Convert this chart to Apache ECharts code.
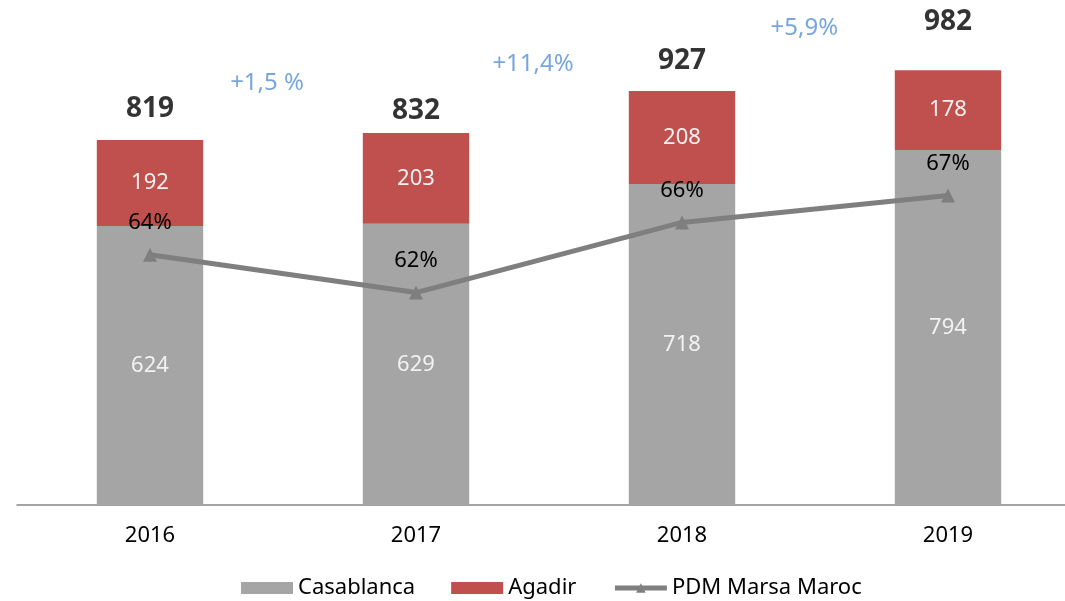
<!DOCTYPE html>
<html>
<head>
<meta charset="utf-8">
<script src="https://cdn.jsdelivr.net/npm/echarts@6/dist/echarts.min.js"></script>
<style>
html,body{margin:0;padding:0;background:#fff;overflow:hidden;}
#chart{width:1081px;height:601px;}
</style>
</head>
<body>
<div id="chart"></div>
<script>
const years = ['2016', '2017', '2018', '2019'];
const casablanca = [624, 629, 718, 794];
const agadir = [192, 203, 208, 178];
const totals = [819, 832, 927, 982];
const pdm = [63.9, 61.8, 65.7, 67.2];
const growthLabels = ['+1,5 %', '+11,4%', '+5,9%'];
const growthX = [0.44, 1.44, 2.46];
const growthY = [944, 986, 1067];

// label placement (styling only, not data)
const totalLabelGap = [16, 8, 15, 30];

const FONT = '"Noto Sans", sans-serif';
const chart = echarts.init(document.getElementById('chart'));

chart.setOption({
  animation: false,
  backgroundColor: '#ffffff',
  textStyle: { fontFamily: FONT },
  grid: { left: 17, right: 0, top: 10, bottom: 96, containLabel: false },
  legend: {
    top: 572,
    left: 236,
    itemWidth: 52,
    itemHeight: 12,
    itemGap: 36,
    data: [
      { name: 'Casablanca', icon: 'rect' },
      { name: 'Agadir', icon: 'rect' },
      { name: 'PDM Marsa Maroc', lineStyle: { width: 5, color: '#7F7F7F' } }
    ],
    textStyle: { fontFamily: FONT, fontSize: 22, color: '#000' }
  },
  xAxis: [
    {
      type: 'category',
      data: years,
      axisLine: { lineStyle: { color: '#868686', width: 1.5 } },
      axisTick: { show: false },
      axisLabel: { color: '#000', fontSize: 22, fontFamily: FONT, margin: 20 }
    },
    { type: 'value', min: -0.5, max: 3.5, show: false }
  ],
  yAxis: [
    { type: 'value', min: 0, max: 1107, show: false },
    { type: 'value', min: 50, max: 77.5, show: false }
  ],
  series: [
    {
      name: 'Casablanca', type: 'bar', stack: 'v', barWidth: '40%',
      data: casablanca,
      itemStyle: { color: '#A5A5A5' },
      label: { show: true, position: 'inside', color: '#F2F2F2', fontSize: 22, fontFamily: FONT }
    },
    {
      name: 'Agadir', type: 'bar', stack: 'v', barWidth: '40%',
      data: agadir,
      itemStyle: { color: '#C0504D' },
      label: { show: true, position: 'inside', color: '#F2F2F2', fontSize: 22, fontFamily: FONT }
    },
    {
      name: 'Totals', type: 'scatter', symbolSize: 0, silent: true,
      data: totals.map((v, i) => ({ value: v, label: { distance: totalLabelGap[i] } })),
      label: { show: true, position: 'top', color: '#000000', fontSize: 28, fontWeight: 'bold', fontFamily: FONT }
    },
    {
      name: 'PDM Marsa Maroc', type: 'line', yAxisIndex: 1, data: pdm,
      symbol: 'triangle', symbolSize: 14,
      lineStyle: { color: '#7F7F7F', width: 5 },
      itemStyle: { color: '#7F7F7F' },
      label: {
        show: true, position: 'top', distance: 14, color: '#000', fontSize: 22, fontFamily: FONT,
        formatter: p => Math.round(p.value) + '%'
      }
    },
    {
      name: 'Growth', type: 'scatter', xAxisIndex: 1, symbolSize: 0, silent: true,
      data: growthX.map((x, i) => [x, growthY[i], growthLabels[i]]),
      label: {
        show: true, position: 'inside', color: '#558ED5', fontSize: 24, fontFamily: FONT,
        formatter: p => p.data[2]
      }
    }
  ]
});
</script>
</body>
</html>
